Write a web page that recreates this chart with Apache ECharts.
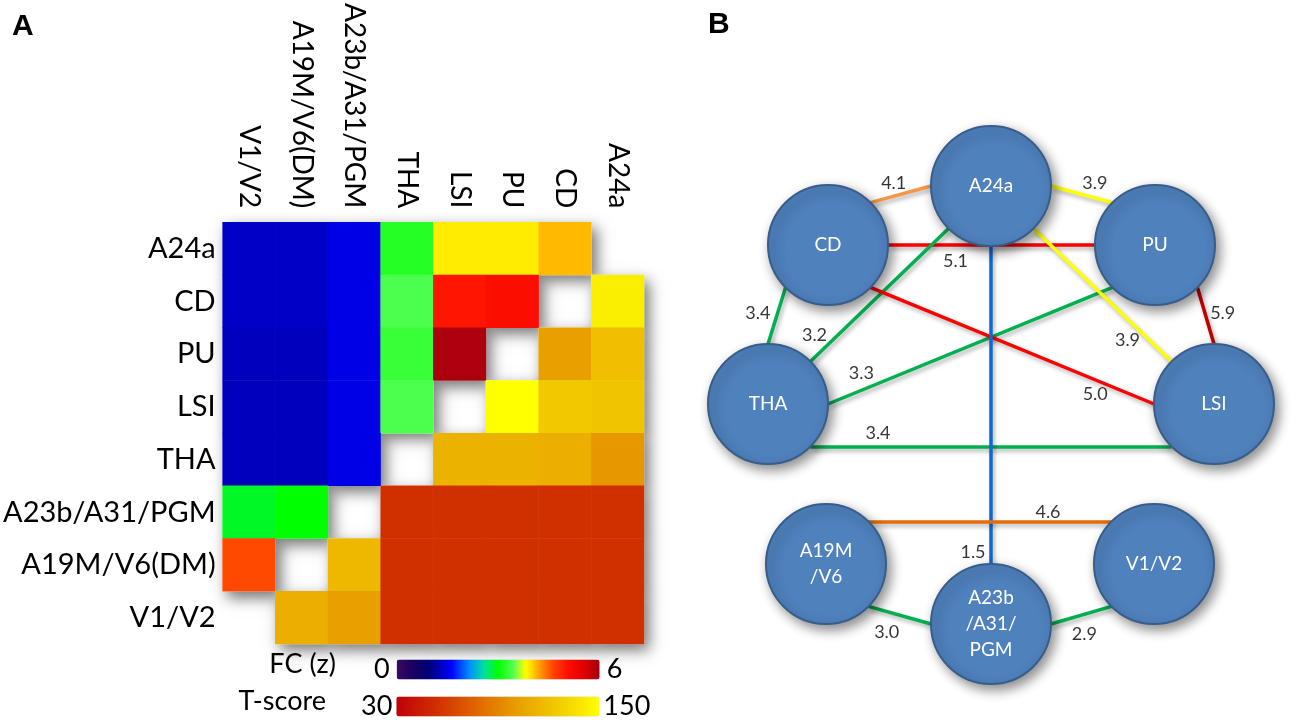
<!DOCTYPE html>
<html><head><meta charset="utf-8">
<script src="https://cdn.jsdelivr.net/npm/echarts@6/dist/echarts.min.js"></script>
<style>html,body{margin:0;padding:0;background:#fff}#c{width:1300px;height:720px}</style>
</head><body><div id="c"></div>
<script>
// ---------- Panel A data ----------
const xCats = ['V1/V2','A19M/V6(DM)','A23b/A31/PGM','THA','LSI','PU','CD','A24a'];
const yCats = ['A24a','CD','PU','LSI','THA','A23b/A31/PGM','A19M/V6(DM)','V1/V2'];
// FC (z) values, one row per yCats entry, columns follow xCats (null = not shown)
const fcA24a = [1.35,1.35,1.5,3.2,3.9,3.9,4.1,null];
const fcCD   = [1.35,1.35,1.5,3.4,5.0,5.1,null,null];
const fcPU   = [1.3,1.3,1.5,3.3,5.9,null,null,null];
const fcLSI  = [1.3,1.3,1.5,3.4,null,null,null,null];
const fcTHA  = [1.3,1.3,1.5,null,null,null,null,null];
const fcA23b = [2.9,3.0,null,null,null,null,null,null];
const fcA19M = [4.6,null,null,null,null,null,null,null];
const fcV1   = [null,null,null,null,null,null,null,null];
// T-score values
const tA24a = [null,null,null,null,null,null,null,null];
const tCD   = [null,null,null,null,null,null,null,143];
const tPU   = [null,null,null,null,null,null,102,120];
const tLSI  = [null,null,null,null,null,150,124,122];
const tTHA  = [null,null,null,null,112,112,110,98];
const tA23b = [null,null,null,54,54,54,54,54];
const tA19M = [null,null,115,54,54,54,54,54];
const tV1   = [null,110,102,54,54,54,54,54];
const fcMin = 0, fcMax = 6, tMin = 30, tMax = 150;

// ---------- Panel B data ----------
const nodeNames = ['A24a','CD','PU','THA','LSI','A19M\n/V6','V1/V2','A23b\n/A31/\nPGM'];
const nodeX = [991,828,1155,768,1214,826,1154,991];
const nodeY = [186,245,245,404,404,564,564,624];
const edgeFrom = [1,0,1,1,3,3,3,2,0,1,0,5,5,7];
const edgeTo   = [0,2,2,3,0,2,4,4,4,4,7,6,7,6];
const edgeFC   = ['4.1','3.9','5.1','3.4','3.2','3.3','3.4','5.9','3.9','5.0','1.5','4.6','3.0','2.9'];

// ---------- styles ----------
const edgeFromAnchor = ['NE','E','E','SW','NE','E','SE','SE','SE','SE','S','NE','SE','E'];
const edgeToAnchor   = ['W','NW','W','N','SW','SW','SW','N','NW','W','N','NW','W','SW'];
const edgeColors = ['#f79646','#ffff00','#ff0000','#00b050','#00b050','#00b050','#00b050','#c00000','#ffff00','#ff0000','#1067d2','#e46c0a','#00b050','#00b050'];
const labelDx = [-7,13,-36,-19,-65,-109,-113,17,25,83,-18,58,-13,3];
const labelDy = [-11,-11,16,-3,40,27,-13,-3,45,48,147,-9,17,19];
const nodeR = 60;
const FONT = 'Lato';

const fcStops = [[0,'#3a0a60'],[0.08,'#1a0060'],[0.15,'#000070'],[0.22,'#0000c0'],[0.27,'#0000ff'],[0.36,'#0090ff'],[0.43,'#00e0a0'],[0.50,'#00ff00'],[0.575,'#55ff55'],[0.635,'#ffff00'],[0.66,'#ffe000'],[0.69,'#ffb000'],[0.77,'#ff4400'],[0.84,'#ff1000'],[0.92,'#e00000'],[1,'#a00010']];
const tStops = [[0,'#c00008'],[0.2,'#d03000'],[0.4,'#e06800'],[0.6,'#e8a000'],[0.75,'#f0c000'],[0.9,'#f8e400'],[1,'#ffff00']];
function ramp(stops, n){
  const hx = c => [parseInt(c.substr(1,2),16),parseInt(c.substr(3,2),16),parseInt(c.substr(5,2),16)];
  const out=[];
  for(let i=0;i<n;i++){
    const t=i/(n-1); let k=0;
    while(k<stops.length-2 && t>stops[k+1][0]) k++;
    const a=stops[k], b=stops[k+1]; const f=(t-a[0])/(b[0]-a[0]);
    const ca=hx(a[1]), cb=hx(b[1]);
    out.push('rgb('+ca.map((v,j)=>Math.round(v+(cb[j]-v)*f)).join(',')+')');
  }
  return out;
}

const fcRows = [fcA24a,fcCD,fcPU,fcLSI,fcTHA,fcA23b,fcA19M,fcV1];
const tRows = [tA24a,tCD,tPU,tLSI,tTHA,tA23b,tA19M,tV1];
const fcData=[], tData=[], allData=[];
fcRows.forEach((row,yi)=>row.forEach((v,xi)=>{ if(v!=null){fcData.push([xi,yi,v]); allData.push([xi,yi,1]);} }));
tRows.forEach((row,yi)=>row.forEach((v,xi)=>{ if(v!=null){tData.push([xi,yi,v]); allData.push([xi,yi,1]);} }));

const dirs = {N:[0,-1],S:[0,1],E:[1,0],W:[-1,0],NE:[0.7071,-0.7071],NW:[-0.7071,-0.7071],SE:[0.7071,0.7071],SW:[-0.7071,0.7071]};
const anchor = (n,a) => [nodeX[n]+nodeR*dirs[a][0], nodeY[n]+nodeR*dirs[a][1]];
const lineData = edgeFrom.map((f,i)=>({coords:[anchor(f,edgeFromAnchor[i]),anchor(edgeTo[i],edgeToAnchor[i])], lineStyle:{color:edgeColors[i]}}));
const edgeLabelData = lineData.map((l,i)=>({
  value:[(l.coords[0][0]+l.coords[1][0])/2,(l.coords[0][1]+l.coords[1][1])/2, edgeFC[i]],
  label:{offset:[labelDx[i],labelDy[i]]}
}));
const nodeData = nodeNames.map((n,i)=>({name:n, value:[nodeX[i],nodeY[i]]}));

const chart = echarts.init(document.getElementById('c'));
chart.setOption({
  backgroundColor:'#fff',
  animation:false,
  grid:[
    {left:220, top:220, width:424, height:424},
    {left:0, top:0, width:1300, height:720}
  ],
  xAxis:[
    {type:'category', data:xCats, gridIndex:0, position:'top', axisLine:{show:false}, axisTick:{show:false}, splitLine:{show:false},
     axisLabel:{rotate:90, fontSize:28, fontFamily:FONT, color:'#000', margin:14}},
    {type:'value', gridIndex:1, min:0, max:1300, show:false}
  ],
  yAxis:[
    {type:'category', data:yCats, gridIndex:0, inverse:true, axisLine:{show:false}, axisTick:{show:false}, splitLine:{show:false},
     axisLabel:{fontSize:29, fontFamily:FONT, color:'#000', margin:7}},
    {type:'value', gridIndex:1, min:0, max:720, inverse:true, show:false}
  ],
  visualMap:[
    {type:'continuous', seriesIndex:1, min:fcMin, max:fcMax, orient:'horizontal', left:374, top:656, padding:0,
     itemWidth:20, itemHeight:203, text:[String(fcMax),String(fcMin)], textGap:7, calculable:false, hoverLink:false,
     inRange:{color:ramp(fcStops,121)}, textStyle:{fontSize:27, fontFamily:FONT, color:'#000'}},
    {type:'continuous', seriesIndex:2, min:tMin, max:tMax, orient:'horizontal', left:361, top:693, padding:0,
     itemWidth:20, itemHeight:203, text:[String(tMax),String(tMin)], textGap:4, calculable:false, hoverLink:false,
     inRange:{color:ramp(tStops,121)}, textStyle:{fontSize:27, fontFamily:FONT, color:'#000'}}
  ],
  graphic:[
    {type:'text', left:12, top:12, style:{text:'A', font:'bold 30px "Liberation Sans"', fill:'#000'}},
    {type:'text', left:708, top:10, style:{text:'B', font:'bold 30px "Liberation Sans"', fill:'#000'}},
    {type:'text', right:1300-336, top:651, style:{text:'FC (z)', font:'27px '+FONT, fill:'#000'}},
    {type:'text', right:1300-326, top:688, style:{text:'T-score', font:'27px '+FONT, fill:'#000'}}
  ],
  series:[
    {type:'heatmap', xAxisIndex:0, yAxisIndex:0, data:allData, silent:true,
     itemStyle:{color:'#fff', shadowBlur:14, shadowColor:'rgba(0,0,0,0.55)', shadowOffsetX:5, shadowOffsetY:6}},
    {type:'heatmap', xAxisIndex:0, yAxisIndex:0, data:fcData, silent:true},
    {type:'heatmap', xAxisIndex:0, yAxisIndex:0, data:tData, silent:true},
    {type:'lines', coordinateSystem:'cartesian2d', xAxisIndex:1, yAxisIndex:1, data:lineData, silent:true, z:2,
     lineStyle:{width:3.5, opacity:1, shadowColor:'rgba(0,0,0,0.3)', shadowBlur:4, shadowOffsetX:2, shadowOffsetY:3}},
    {type:'scatter', xAxisIndex:1, yAxisIndex:1, data:nodeData, symbolSize:nodeR*2, silent:true, z:3,
     itemStyle:{color:'#4f81bd', borderColor:'#385d8a', borderWidth:2, opacity:1, shadowBlur:12, shadowColor:'rgba(0,0,0,0.45)', shadowOffsetX:4, shadowOffsetY:5},
     label:{show:true, position:'inside', formatter:p=>p.name, color:'#fff', fontSize:19, lineHeight:26, fontFamily:FONT}},
    {type:'scatter', xAxisIndex:1, yAxisIndex:1, data:edgeLabelData, symbolSize:0, silent:true, z:4,
     label:{show:true, position:'inside', formatter:p=>p.value[2], color:'#000', fontSize:18, fontFamily:FONT}}
  ]
});
</script></body></html>
